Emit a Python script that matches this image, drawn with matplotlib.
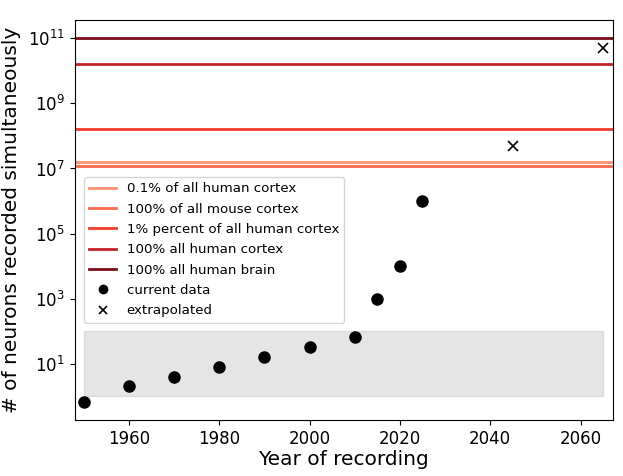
import matplotlib
matplotlib.use("Agg")
import matplotlib.pyplot as plt
from matplotlib.ticker import NullLocator, FixedLocator

# data
years_current = [1950, 1960, 1970, 1980, 1990, 2000, 2010, 2015, 2020, 2025]
neurons_current = [0.65, 2, 4, 8, 16, 32, 64, 1e3, 1e4, 1e6]
years_extrap = [2045, 2065]
neurons_extrap = [5e7, 5e10]

ref_labels = ["0.1% of all human cortex", "100% of all mouse cortex",
              "1% percent of all human cortex", "100% all human cortex",
              "100% all human brain"]
ref_values = [1.6e7, 1.2e7, 1.6e8, 1.6e10, 1e11]
ref_colors = ["#fc9272", "#fb6a4a", "#ef3b2c", "#c4222b", "#7a0c18"]

box_years = [1950, 2065]
box_low, box_high = 1, 100

fig = plt.figure(figsize=(6.23, 4.76), dpi=100)
ax = fig.add_axes([0.120, 0.118, 0.864, 0.840])

for lab, val, col in zip(ref_labels, ref_values, ref_colors):
    ax.axhline(val, color=col, lw=2, label=lab)

ax.fill_between(box_years, box_low, box_high, color="grey", alpha=0.2)

ax.plot(years_current, neurons_current, "o", color="black", ms=8, label="current data")
ax.plot(years_extrap, neurons_extrap, "x", color="black", ms=7, mew=1.2, label="extrapolated")

ax.set_yscale("log")
ax.set_xlim(1948, 2067.2)
ax.set_ylim(0.187, 3.67e11)
ax.yaxis.set_major_locator(FixedLocator([1e1, 1e3, 1e5, 1e7, 1e9, 1e11]))
ax.yaxis.set_minor_locator(NullLocator())
ax.set_xticks([1960, 1980, 2000, 2020, 2040, 2060])
ax.tick_params(labelsize=12)

ax.set_xlabel("Year of recording", fontsize=14.5, labelpad=2)
ax.set_ylabel("# of neurons recorded simultaneously", fontsize=14.5, labelpad=5)

ax.legend(loc="upper left", bbox_to_anchor=(0.017, 0.607), borderaxespad=0,
          fontsize=9.6, labelspacing=0.55, markerscale=0.75)

fig.savefig("out.png", dpi=100)
